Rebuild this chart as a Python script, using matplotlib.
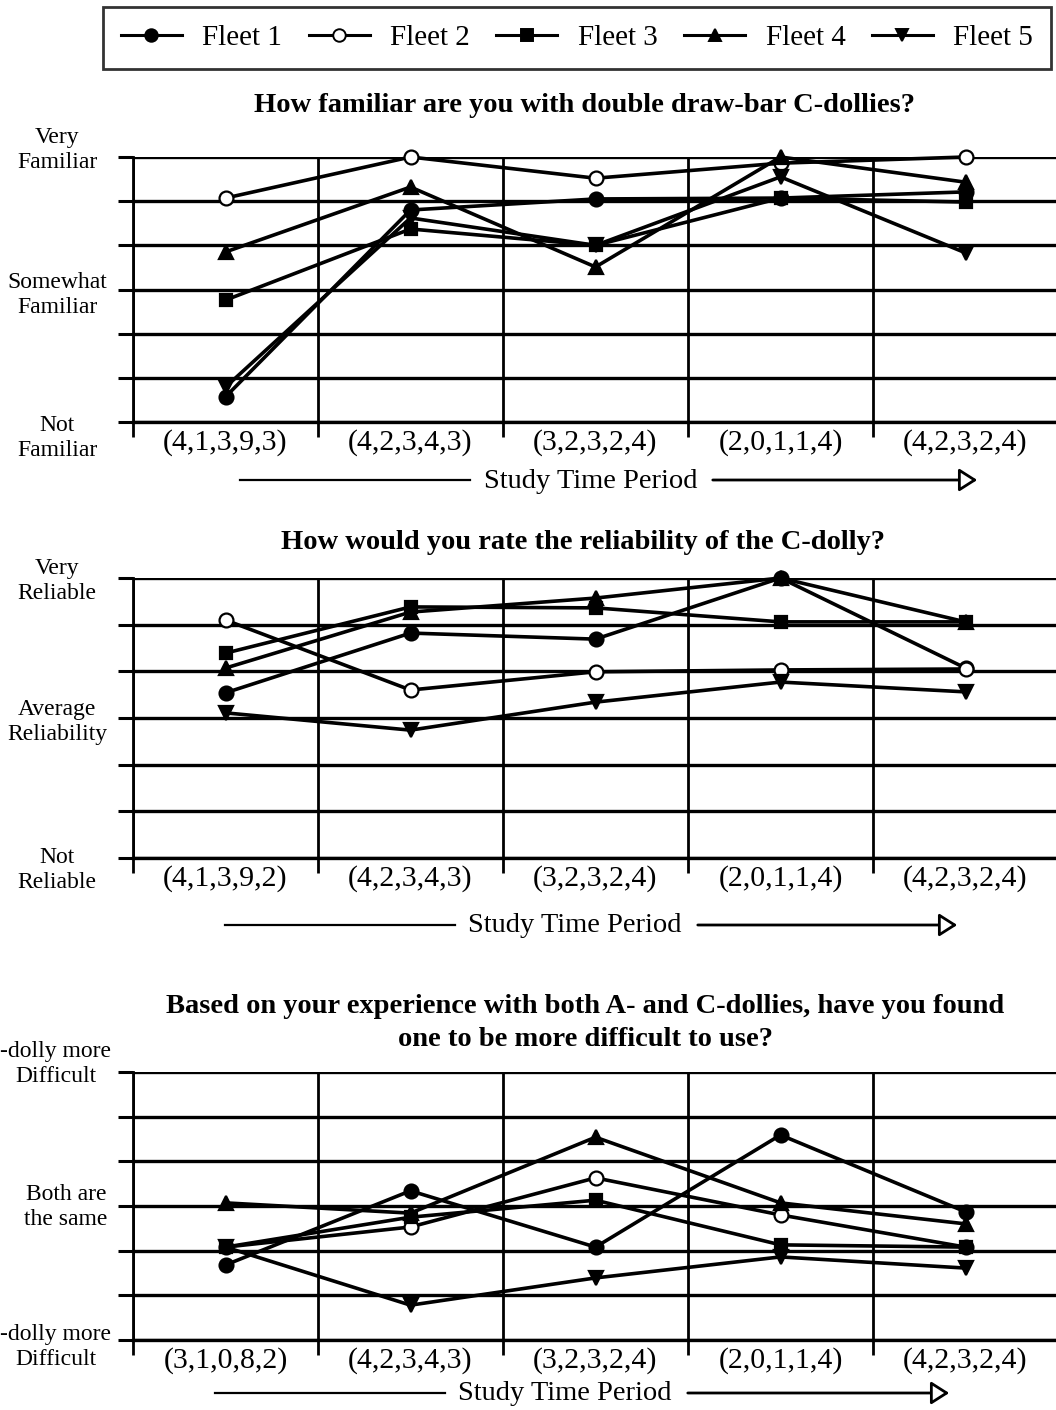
import matplotlib
matplotlib.use("Agg")
import matplotlib.pyplot as plt
from matplotlib.lines import Line2D
from matplotlib.patches import FancyArrowPatch

# ---------------- data ----------------
fleets = ["Fleet 1", "Fleet 2", "Fleet 3", "Fleet 4", "Fleet 5"]
periods = [1, 2, 3, 4, 5]

period_labels_1 = ["(4,1,3,9,3)", "(4,2,3,4,3)", "(3,2,3,2,4)", "(2,0,1,1,4)", "(4,2,3,2,4)"]
period_labels_2 = ["(4,1,3,9,2)", "(4,2,3,4,3)", "(3,2,3,2,4)", "(2,0,1,1,4)", "(4,2,3,2,4)"]
period_labels_3 = ["(3,1,0,8,2)", "(4,2,3,4,3)", "(3,2,3,2,4)", "(2,0,1,1,4)", "(4,2,3,2,4)"]

# scale 0 (lowest) .. 6 (highest)
familiar_f1 = [0.57, 4.80, 5.05, 5.07, 5.21]
familiar_f2 = [5.07, 6.00, 5.52, 5.86, 6.00]
familiar_f3 = [2.76, 4.37, 4.00, 5.07, 4.98]
familiar_f4 = [3.85, 5.32, 3.51, 6.00, 5.43]
familiar_f5 = [0.79, 4.62, 4.00, 5.55, 3.83]

reliab_f1 = [3.54, 4.82, 4.69, 6.00, 4.07]
reliab_f2 = [5.10, 3.60, 3.99, 4.03, 4.05]
reliab_f3 = [4.39, 5.38, 5.36, 5.06, 5.06]
reliab_f4 = [4.07, 5.27, 5.57, 6.00, 5.06]
reliab_f5 = [3.11, 2.74, 3.34, 3.77, 3.56]

difficult_f1 = [1.68, 3.34, 2.08, 4.59, 2.87]
difficult_f2 = [2.08, 2.53, 3.63, 2.80, 2.08]
difficult_f3 = [2.08, 2.75, 3.13, 2.13, 2.08]
difficult_f4 = [3.07, 2.84, 4.54, 3.07, 2.60]
difficult_f5 = [2.08, 0.78, 1.39, 1.86, 1.61]

titles = [
    "How familiar are you with double draw-bar C-dollies?",
    "How would you rate the reliability of the C-dolly?",
    "Based on your experience with both A- and C-dollies, have you found\none to be more difficult to use?",
]
ylabels_1 = ["Very\nFamiliar", "Somewhat\nFamiliar", "Not\nFamiliar"]
ylabels_2 = ["Very\nReliable", "Average\nReliability", "Not\nReliable"]
ylabels_3 = ["-dolly more\nDifficult", "Both are\nthe same", "-dolly more\nDifficult"]

# ---------------- style ----------------
plt.rcParams["font.family"] = ["Liberation Serif", "DejaVu Serif"]
W, H = 1056, 1410
fig = plt.figure(figsize=(W / 100, H / 100), dpi=100)

markers = ["o", "o", "s", "^", "v"]
mfaces = ["black", "white", "black", "black", "black"]
msizes = [10, 10, 9, 10, 10]


def fx(px):
    return px / W


def fy(py):
    return 1 - py / H


def make_panel(top, bottom, series, plabels, ylabels, ylabel_pos):
    left_px, right_px = 133, 1058
    ax = fig.add_axes([fx(left_px), fy(bottom), (right_px - left_px) / W, (bottom - top) / H])
    ax.set_xlim(0.5, 5.5)
    ax.set_ylim(0, 6)
    for s, m, fc, ms in zip(series, markers, mfaces, msizes):
        ax.plot(periods, s, color="black", lw=2.6, marker=m, markersize=ms,
                markerfacecolor=fc, markeredgecolor="black", markeredgewidth=1.6,
                clip_on=False, zorder=3)
    ax.set_yticks(range(7))
    ax.set_yticklabels([])
    ax.set_xticks([0.5, 1.5, 2.5, 3.5, 4.5, 5.5])
    ax.set_xticklabels([])
    ax.set_xticks(periods, minor=True)
    ax.set_xticklabels(plabels, minor=True, fontsize=21.5)
    ax.tick_params(axis="x", which="minor", length=0, pad=5)
    ax.tick_params(axis="x", which="major", length=11, width=2, direction="out")
    ax.tick_params(axis="y", which="major", length=11, width=2.2, direction="out")
    ax.grid(axis="y", color="black", lw=2.4)
    ax.grid(axis="x", color="black", lw=2)
    ax.set_axisbelow(True)
    for sp in ["top", "right"]:
        ax.spines[sp].set_visible(False)
    ax.spines["left"].set_linewidth(2)
    ax.spines["bottom"].set_linewidth(2.4)
    for lab, (xp, yp) in zip(ylabels, ylabel_pos):
        fig.text(fx(xp), fy(yp), lab, ha="center", va="center", fontsize=17,
                 linespacing=1.25, multialignment="center")
    return ax


def time_arrow(y, l1, l2, tx, r1, tip):
    fig.add_artist(Line2D([fx(l1), fx(l2)], [fy(y), fy(y)], transform=fig.transFigure,
                          color="black", lw=1.6))
    fig.text(fx(tx), fy(y + 1), "Study Time Period", ha="center", va="center", fontsize=20.5)
    fig.add_artist(FancyArrowPatch((fx(r1), fy(y)), (fx(tip), fy(y)), transform=fig.transFigure,
                                   arrowstyle="-|>,head_length=0.55,head_width=0.35",
                                   mutation_scale=20, fc="white", ec="black", lw=2))


make_panel(157, 422,
           [familiar_f1, familiar_f2, familiar_f3, familiar_f4, familiar_f5],
           period_labels_1, ylabels_1, [(57, 150), (57, 295), (57, 438)])
make_panel(578, 858,
           [reliab_f1, reliab_f2, reliab_f3, reliab_f4, reliab_f5],
           period_labels_2, ylabels_2, [(57, 581), (57, 722), (57, 870)])
make_panel(1072, 1340,
           [difficult_f1, difficult_f2, difficult_f3, difficult_f4, difficult_f5],
           period_labels_3, ylabels_3, [(56, 1064), (66, 1207), (56, 1347)])

fig.text(fx(585), fy(105), titles[0], ha="center", va="center", fontsize=20.5, fontweight="bold")
fig.text(fx(583), fy(543), titles[1], ha="center", va="center", fontsize=20.5, fontweight="bold")
fig.text(fx(585), fy(1023), titles[2], ha="center", va="center", fontsize=20.5,
         fontweight="bold", linespacing=1.45)

time_arrow(480, 240, 470, 591, 710, 980)
time_arrow(925, 225, 455, 575, 695, 960)
time_arrow(1393, 215, 445, 565, 685, 952)

handles = [Line2D([], [], color="black", lw=2.2, marker=m, markersize=ms - 1,
                  markerfacecolor=fc, markeredgecolor="black", markeredgewidth=1.4)
           for m, fc, ms in zip(markers, mfaces, msizes)]
leg = fig.legend(handles, fleets, loc="center", bbox_to_anchor=(fx(577), fy(38)), ncol=5,
                 frameon=True, fancybox=False, edgecolor="black", fontsize=21,
                 handlelength=2.1, columnspacing=0.9, handletextpad=0.7, borderpad=0.6)
leg.get_frame().set_linewidth(2)

fig.savefig("out.png", dpi=100)
